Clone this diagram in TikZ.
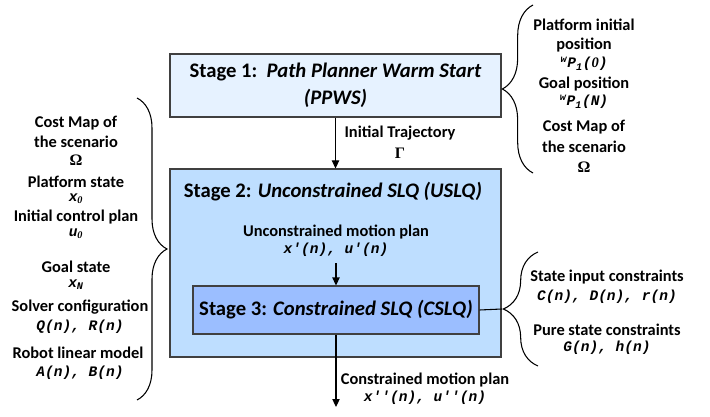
\documentclass[tikz,border=0pt]{standalone}
\usepackage{fontspec}
\setmainfont{Carlito}
\newfontfamily\monof{Liberation Mono}[Ligatures=TeXOff]
\newfontfamily\serifb{Liberation Serif}
\usetikzlibrary{arrows.meta,decorations.pathreplacing}
\definecolor{sonecol}{RGB}{230,242,255}
\definecolor{stwocol}{RGB}{190,222,255}
\definecolor{sthreecol}{RGB}{155,190,255}
\newcommand\mth[1]{{\fontsize{10.9}{12}\monof\bfseries\itshape #1}}
\newcommand\zr{{\serifb\bfseries\itshape 0}}
\newcommand\grk[1]{{\fontsize{12}{14}\serifb\bfseries #1}}
\tikzset{
  stagebox/.style={draw=black!75, line width=0.8pt, inner sep=0pt, align=center,
     font=\fontsize{15.5}{20.25}\selectfont\bfseries},
  stagetitle/.style={inner sep=0pt, font=\fontsize{15.5}{20.25}\selectfont\bfseries},
  lbl/.style={inner sep=0pt, font=\fontsize{12.3}{14}\selectfont\bfseries},
  arr/.style={line width=0.8pt, -{Triangle[length=6pt,width=5.5pt]}},
  bracel/.style={line width=0.8pt, decorate, decoration={brace, amplitude=#1}},
}
\begin{document}
\begin{tikzpicture}[x=0.75pt,y=-0.75pt]
\path[use as bounding box, fill=white] (0,0) rectangle (710,417);

% boxes
\node[stagebox, fill=sonecol, minimum width=248.25pt, minimum height=47.25pt] (s1) at (335.5,85.5)
  {Stage 1:\ \ \textit{Path Planner Warm Start}\\ \textit{(PPWS)}};
\node[stagebox, fill=stwocol, minimum width=248.25pt, minimum height=141pt] (s2) at (335.5,263) {};
\node[stagetitle] (s2t) at (333,192) {Stage 2: \textit{Unconstrained SLQ (USLQ)}};
\node[stagebox, fill=sthreecol, minimum width=214.5pt, minimum height=36pt] (s3) at (336,310)
  {Stage 3: \textit{Constrained SLQ (CSLQ)}};

% arrows
\draw[arr] (s1.south) -- (s2.north);
\node[lbl] (it1) at (400,133) {Initial Trajectory};
\node[lbl] (it2) at (400,153) {\grk{Γ}};

\node[lbl] (um1) at (336,232) {Unconstrained motion plan};
\node[lbl] (um2) at (336,250) {\mth{x'(n), u'(n)}};
\coordinate (ustart) at (336,263);
\draw[arr] (ustart) -- (ustart |- s3.north);

\coordinate (cend) at (336,407);
\draw[arr] (s3.south) -- (cend);
\node[lbl] (cm1) at (425,380) {Constrained motion plan};
\node[lbl] (cm2) at (425,398) {\mth{x''(n), u''(n)}};

% braces
\draw[bracel=22.5pt] (137,98) -- (137,400);
\draw[bracel=23pt] (533,173) -- (533,5);
\draw[bracel=26pt] (538,366) -- (538,252);
\coordinate (btip) at (502,309);
\draw[line width=0.8pt] (s3.east) -- (btip);

% left labels
\node[lbl] (l1) at (76,123) {Cost Map of};
\node[lbl] (l2) at (76,142) {the scenario};
\node[lbl] (l3) at (76,160) {\grk{Ω}};
\node[lbl] (l4) at (76,182) {Platform state};
\node[lbl] (l5) at (76,199) {\mth{x\textsubscript{\zr}}};
\node[lbl] (l6) at (76,217) {Initial control plan};
\node[lbl] (l7) at (76,234) {\mth{u\textsubscript{\zr}}};
\node[lbl] (l8) at (76,267) {Goal state};
\node[lbl] (l9) at (76,285) {\mth{x\textsubscript{N}}};
\node[lbl] (l10) at (80,307) {Solver configuration};
\node[lbl] (l11) at (80,327) {\mth{Q(n), R(n)}};
\node[lbl] (l12) at (78,353) {Robot linear model};
\node[lbl] (l13) at (80,373) {\mth{A(n), B(n)}};

% right top labels
\node[lbl] (r1) at (584,25) {Platform initial};
\node[lbl] (r2) at (584,45) {position};
\node[lbl] (r3) at (584,64) {\mth{\textsuperscript{w}P\textsubscript{1}(\zr)}};
\node[lbl] (r4) at (584,84) {Goal position};
\node[lbl] (r5) at (584,102) {\mth{\textsuperscript{w}P\textsubscript{1}(N)}};
\node[lbl] (r6) at (584,127) {Cost Map of};
\node[lbl] (r7) at (584,147) {the scenario};
\node[lbl] (r8) at (584,167) {\grk{Ω}};

% right bottom labels
\node[lbl] (c1) at (607,277) {State input constraints};
\node[lbl] (c2) at (607,297) {\mth{C(n), D(n), r(n)}};
\node[lbl] (c3) at (607,330) {Pure state constraints};
\node[lbl] (c4) at (607,348) {\mth{G(n), h(n)}};
\end{tikzpicture}
\end{document}
